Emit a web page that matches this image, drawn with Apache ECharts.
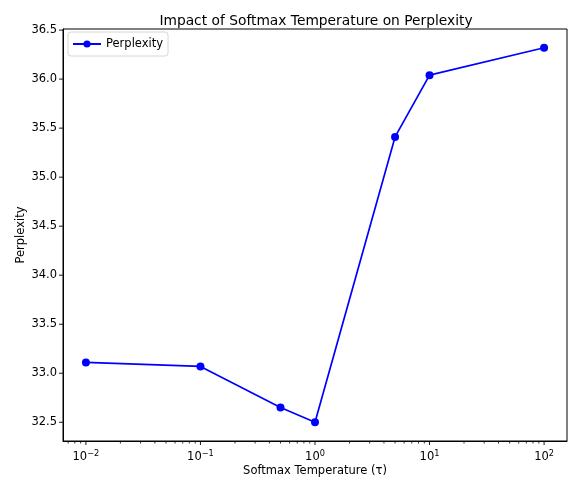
<!DOCTYPE html>
<html>
<head>
<meta charset="utf-8">
<script src="https://cdn.jsdelivr.net/npm/echarts@6/dist/echarts.min.js"></script>
<style>
html,body{margin:0;padding:0;background:#fff;}
#chart{width:568px;height:478px;}
</style>
</head>
<body>
<div id="chart"></div>
<script>
const temperatures = [0.01, 0.1, 0.5, 1, 5, 10, 100];
const perplexity = [33.11, 33.07, 32.65, 32.50, 35.41, 36.04, 36.32];
const yTicks = [32.5, 33.0, 33.5, 34.0, 34.5, 35.0, 35.5, 36.0, 36.5];
const xMajorExponents = [-2, -1, 0, 1, 2];

const xMin = Math.pow(10, -2.2), xMax = Math.pow(10, 2.2);
const yMin = 32.309, yMax = 36.511;

const minorTickValues = [];
for (let e = -3; e <= 2; e++) {
  for (let m = 2; m <= 9; m++) {
    const v = m * Math.pow(10, e);
    if (v > xMin && v < xMax) minorTickValues.push(v);
  }
}

const font = 'DejaVu Sans';
const fs = 11.5;
const chart = echarts.init(document.getElementById('chart'), null, {renderer: 'canvas'});
chart.setOption({
  animation: false,
  backgroundColor: '#fff',
  textStyle: {fontFamily: font},
  title: {
    text: 'Impact of Softmax Temperature on Perplexity',
    left: 311, top: 9, textAlign: 'center',
    textStyle: {fontFamily: font, fontSize: 13.8, fontWeight: 'normal', color: '#000'}
  },
  legend: {
    left: 68, top: 32,
    data: ['Perplexity'],
    itemWidth: 28, itemHeight: 9,
    itemGap: 5,
    padding: [6, 5, 6, 4],
    borderColor: '#d6d6d6', borderWidth: 1, borderRadius: 3,
    textStyle: {fontFamily: font, fontSize: fs, color: '#000'}
  },
  grid: {left: 63, right: 1, top: 29, bottom: 37, show: true, borderColor: '#000', borderWidth: 1,
         outerBoundsMode: 'none', containLabel: false},
  xAxis: {
    type: 'log', logBase: 10, min: xMin, max: xMax,
    name: 'Softmax Temperature (τ)', nameLocation: 'middle', nameGap: 24,
    nameMoveOverlap: false,
    nameTextStyle: {fontFamily: font, fontSize: fs, color: '#000', verticalAlign: 'top'},
    axisLine: {show: true, lineStyle: {color: '#000', width: 1}},
    axisTick: {show: false},
    splitLine: {show: false},
    axisLabel: {
      color: '#000', fontFamily: font, fontSize: fs, margin: 9,
      formatter: function (v) {
        const e = Math.log10(v);
        const r = Math.round(e);
        if (Math.abs(e - r) > 1e-6 || xMajorExponents.indexOf(r) < 0) return '';
        const s = r < 0 ? '−' + Math.abs(r) : '' + r;
        return '10{sup|' + s + '}';
      },
      rich: {sup: {fontSize: 8.2, verticalAlign: 'top', padding: [0, 0, 7, 0], fontFamily: font, color: '#000'}}
    }
  },
  yAxis: {
    type: 'value', min: yMin, max: yMax,
    name: 'Perplexity', nameLocation: 'middle', nameGap: 36,
    nameMoveOverlap: false,
    nameTextStyle: {fontFamily: font, fontSize: fs, color: '#000'},
    axisLine: {show: true, lineStyle: {color: '#000', width: 1}},
    axisTick: {show: false},
    axisLabel: {show: false},
    splitLine: {show: false}
  },
  series: [
    {
      name: 'Perplexity', type: 'line',
      data: temperatures.map((t, i) => [t, perplexity[i]]),
      symbol: 'circle', symbolSize: 8,
      lineStyle: {color: '#0000ff', width: 1.7},
      itemStyle: {color: '#0000ff'},
      z: 5
    },
    {
      name: 'xMinorTicks', type: 'custom', silent: true, clip: false,
      data: minorTickValues.map(v => [v, yMin]),
      renderItem: function (params, api) {
        const p = api.coord([api.value(0), api.value(1)]);
        return {type: 'line', shape: {x1: p[0], y1: p[1], x2: p[0], y2: p[1] + 2.5},
                style: {stroke: '#000', lineWidth: 0.8}};
      }
    },
    {
      name: 'xMajorTicks', type: 'custom', silent: true, clip: false,
      data: xMajorExponents.map(e => [Math.pow(10, e), yMin]),
      renderItem: function (params, api) {
        const p = api.coord([api.value(0), api.value(1)]);
        return {type: 'line', shape: {x1: p[0], y1: p[1], x2: p[0], y2: p[1] + 4},
                style: {stroke: '#000', lineWidth: 0.9}};
      }
    },
    {
      name: 'yTicks', type: 'custom', silent: true, clip: false,
      data: yTicks.map(v => [xMin, v]),
      renderItem: function (params, api) {
        const v = api.value(1);
        const p = api.coord([api.value(0), v]);
        return {type: 'group', children: [
          {type: 'line', shape: {x1: p[0], y1: p[1], x2: p[0] - 4, y2: p[1]},
           style: {stroke: '#000', lineWidth: 0.9}},
          {type: 'text', style: {text: v.toFixed(1), x: p[0] - 6, y: p[1],
            align: 'right', verticalAlign: 'middle', fill: '#000',
            fontFamily: font, fontSize: fs}}
        ]};
      }
    }
  ]
});
</script>
</body>
</html>
